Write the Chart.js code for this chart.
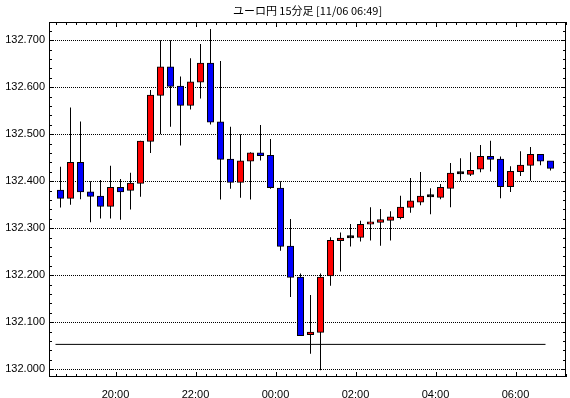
<!DOCTYPE html>
<html>
<head>
<meta charset="utf-8">
<script src="https://cdn.jsdelivr.net/npm/chart.js@4/dist/chart.umd.min.js"></script>
<style>
  html, body { margin: 0; padding: 0; background: #fff; }
  #wrap { width: 570px; height: 398px; position: relative; }
</style>
</head>
<body>
<div id="wrap"><canvas id="chart"></canvas></div>
<script>
// ユーロ円 15分足 - candles drawn as floating bars (wick + body)

const title = 'ユーロ円 15分足 [11/06 06:49]';

const times = [
  '18:30', '18:45', '19:00', '19:15', '19:30', '19:45', '20:00', '20:15', '20:30', '20:45',
  '21:00', '21:15', '21:30', '21:45', '22:00', '22:15', '22:30', '22:45', '23:00', '23:15',
  '23:30', '23:45', '00:00', '00:15', '00:30', '00:45', '01:00', '01:15', '01:30', '01:45',
  '02:00', '02:15', '02:30', '02:45', '03:00', '03:15', '03:30', '03:45', '04:00', '04:15',
  '04:30', '04:45', '05:00', '05:15', '05:30', '05:45', '06:00', '06:15', '06:30', '06:45'
];

const opens = [
  132.381, 132.364, 132.440, 132.377, 132.368, 132.347, 132.387, 132.381, 132.396, 132.485,
  132.583, 132.643, 132.602, 132.562, 132.611, 132.651, 132.526, 132.447, 132.398, 132.443,
  132.460, 132.455, 132.385, 132.262, 132.196, 132.074, 132.079, 132.199, 132.274, 132.280,
  132.281, 132.309, 132.313, 132.317, 132.323, 132.345, 132.356, 132.367, 132.366, 132.385,
  132.416, 132.415, 132.426, 132.453, 132.447, 132.389, 132.421, 132.434, 132.457, 132.443
];
const highs = [
  132.431, 132.557, 132.527, 132.400, 132.403, 132.433, 132.405, 132.418, 132.486, 132.594,
  132.700, 132.700, 132.623, 132.662, 132.692, 132.724, 132.656, 132.516, 132.500, 132.462,
  132.520, 132.490, 132.400, 132.320, 132.204, 132.158, 132.204, 132.281, 132.291, 132.309,
  132.316, 132.345, 132.341, 132.336, 132.369, 132.407, 132.420, 132.385, 132.394, 132.439,
  132.449, 132.462, 132.477, 132.486, 132.453, 132.432, 132.464, 132.473, 132.457, 132.443
];
const lows = [
  132.344, 132.350, 132.362, 132.313, 132.321, 132.321, 132.318, 132.340, 132.367, 132.460,
  132.500, 132.516, 132.476, 132.553, 132.576, 132.521, 132.361, 132.384, 132.365, 132.361,
  132.444, 132.384, 132.252, 132.154, 132.072, 132.033, 131.998, 132.178, 132.208, 132.261,
  132.272, 132.274, 132.263, 132.274, 132.319, 132.333, 132.349, 132.330, 132.362, 132.345,
  132.401, 132.411, 132.419, 132.421, 132.364, 132.377, 132.411, 132.401, 132.434, 132.423
];
const closes = [
  132.364, 132.440, 132.378, 132.368, 132.347, 132.387, 132.378, 132.396, 132.485, 132.583,
  132.643, 132.602, 132.562, 132.611, 132.651, 132.526, 132.447, 132.398, 132.443, 132.460,
  132.455, 132.387, 132.262, 132.196, 132.072, 132.079, 132.196, 132.274, 132.279, 132.280,
  132.308, 132.313, 132.318, 132.324, 132.345, 132.358, 132.368, 132.367, 132.387, 132.417,
  132.416, 132.423, 132.453, 132.447, 132.389, 132.421, 132.434, 132.457, 132.443, 132.428
];

// horizontal reference level
const refLevel = 132.053;

const yTicks = [132.0, 132.1, 132.2, 132.3, 132.4, 132.5, 132.6, 132.7];
const xTickLabels = ['20:00', '22:00', '00:00', '02:00', '04:00', '06:00'];

const UP = '#ff0000';
const DOWN = '#0000ff';

const bodyColors = opens.map((o, i) => closes[i] > o ? UP : (closes[i] < o ? DOWN : '#000'));
const xTickPos = xTickLabels.map(l => times.indexOf(l));

// frame, inward ticks and title
const framePlugin = {
  id: 'frame',
  afterDatasetsDraw(chart) {
    const { ctx, chartArea: a, scales } = chart;
    const xs = scales.x, ys = scales.y;
    ctx.save();
    ctx.strokeStyle = '#000';
    ctx.lineWidth = 1;
    ctx.strokeRect(a.left + 0.5, a.top + 0.5, a.right - a.left - 1, a.bottom - a.top - 1);

    ctx.beginPath();
    for (let v = Math.ceil(xs.min); v <= Math.floor(xs.max); v++) {
      const px = Math.round(xs.getPixelForValue(v)) + 0.5;
      const len = xTickPos.includes(v) ? 5 : 3;
      ctx.moveTo(px, a.top); ctx.lineTo(px, a.top + len);
      ctx.moveTo(px, a.bottom); ctx.lineTo(px, a.bottom - len);
    }
    for (let k = 0; k <= 36; k++) {
      const v = 132 + k * 0.02;
      if (v < ys.min || v > ys.max) continue;
      const py = Math.round(ys.getPixelForValue(v)) + 0.5;
      const len = (k % 5 === 0) ? 5 : 3;
      ctx.moveTo(a.left, py); ctx.lineTo(a.left + len, py);
      ctx.moveTo(a.right, py); ctx.lineTo(a.right - len, py);
    }
    ctx.stroke();

    ctx.fillStyle = '#000';
    ctx.font = '11px "Noto Sans CJK JP", sans-serif';
    ctx.textAlign = 'center';
    ctx.textBaseline = 'middle';
    ctx.fillText(title, (a.left + a.right) / 2, 11);
    ctx.restore();
  }
};

new Chart(document.getElementById('chart'), {
  type: 'bar',
  data: {
    datasets: [
      {
        type: 'line',
        data: [{ x: 0, y: refLevel }, { x: times.length - 1, y: refLevel }],
        borderColor: '#000',
        borderWidth: 1,
        pointRadius: 0,
        order: 3
      },
      {
        data: lows.map((l, i) => ({ x: i + 0.5, y: [l, highs[i]] })),
        backgroundColor: '#000',
        borderWidth: 0,
        barThickness: 1,
        inflateAmount: 0,
        grouped: false,
        order: 2
      },
      {
        data: opens.map((o, i) => ({ x: i + 0.5, y: [o, closes[i]] })),
        backgroundColor: bodyColors,
        borderColor: '#000',
        borderWidth: 1,
        borderSkipped: false,
        barThickness: 6,
        inflateAmount: 0.5,
        minBarLength: 2,
        grouped: false,
        order: 1
      }
    ]
  },
  options: {
    responsive: true,
    maintainAspectRatio: false,
    devicePixelRatio: 1,
    animation: false,
    events: [],
    layout: { padding: { top: 22, right: 4, left: 0, bottom: 0 } },
    plugins: {
      legend: { display: false },
      tooltip: { enabled: false },
      title: { display: false }
    },
    scales: {
      x: {
        type: 'linear',
        min: -0.65,
        max: 51.05,
        offset: false,
        grid: { display: false },
        border: { display: false },
        afterBuildTicks: s => { s.ticks = xTickPos.map(v => ({ value: v })); },
        afterFit: s => { s.height = 21; },
        ticks: {
          color: '#000',
          padding: 3,
          maxRotation: 0,
          autoSkip: false,
          font: { family: "'Liberation Sans', sans-serif", size: 11 },
          callback: v => times[v]
        }
      },
      y: {
        min: 131.9836,
        max: 132.7389,
        grid: { color: '#000', lineWidth: 1, drawTicks: false },
        border: { display: false, dash: [1, 1] },
        afterBuildTicks: s => { s.ticks = yTicks.map(v => ({ value: v })); },
        afterFit: s => { s.width = 49; },
        ticks: {
          color: '#000',
          padding: 4,
          font: { family: "'Liberation Sans', sans-serif", size: 11 },
          callback: v => v.toFixed(3)
        }
      }
    }
  },
  plugins: [framePlugin]
});
</script>
</body>
</html>
